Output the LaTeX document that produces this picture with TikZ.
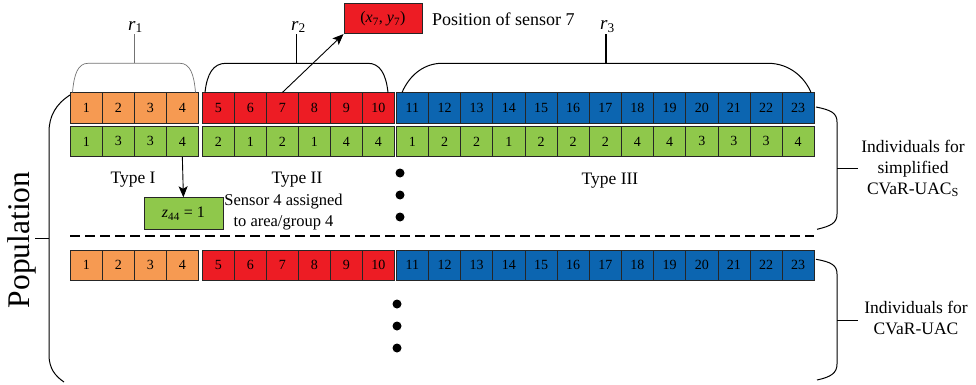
\documentclass[tikz,border=0pt]{standalone}
\usepackage{fontspec}
\setmainfont{Liberation Serif}
\usetikzlibrary{arrows.meta}
\definecolor{corange}{HTML}{F69A52}
\definecolor{cred}{HTML}{ED1C24}
\definecolor{cblue}{HTML}{0C65B0}
\definecolor{cgreen}{HTML}{8FC84B}
\begin{document}
\begin{tikzpicture}[x=1pt,y=-1pt,
  cellbox/.style={draw=black!85, line width=0.7pt, minimum width=32pt, minimum height=30.5pt, inner sep=0pt, anchor=north west, font=\fontsize{14}{14}\selectfont},
  bluebox/.style={cellbox, fill=cblue, minimum width=32.15pt},
  brace/.style={line width=1pt},
  txt/.style={font=\fontsize{17.5}{21}\selectfont, align=center, inner sep=0pt},
  tip/.style={-{Stealth[length=11pt,width=9pt,inset=2.5pt]}, line width=0.9pt},
  dot/.style={circle, fill=black, inner sep=0pt, minimum size=9pt},
  valbox/.style={draw=black!85, line width=0.8pt, inner sep=0pt, anchor=north west, font=\fontsize{16}{16}\selectfont}
]
\useasboundingbox (0,0) rectangle (976,385);

% ---- cells ----
\foreach \i/\v in {1/1,2/3,3/3,4/4} {
  \node[cellbox, fill=corange] (a\i) at ({70+32*(\i-1)},92.5) {\i};
  \node[cellbox, fill=cgreen]  (b\i) at ({70+32*(\i-1)},125.8) {\v};
  \node[cellbox, fill=corange] (c\i) at ({70+32*(\i-1)},249.5) {\i};
}
\foreach \i/\v in {5/2,6/1,7/2,8/1,9/4,10/4} {
  \node[cellbox, fill=cred]   (a\i) at ({202+32*(\i-5)},92.5) {\i};
  \node[cellbox, fill=cgreen] (b\i) at ({202+32*(\i-5)},125.8) {\v};
  \node[cellbox, fill=cred]   (c\i) at ({202+32*(\i-5)},249.5) {\i};
}
\foreach \i/\v in {11/1,12/2,13/2,14/1,15/2,16/2,17/2,18/4,19/4,20/3,21/3,22/3,23/4} {
  \node[bluebox] (a\i) at ({396+32.15*(\i-11)},92.5) {\i};
  \node[bluebox, fill=cgreen] (b\i) at ({396+32.15*(\i-11)},125.8) {\v};
  \node[bluebox] (c\i) at ({396+32.15*(\i-11)},249.5) {\i};
}

% ---- top braces ----
\draw[line width=0.7pt, black!55] (72.5,92.5) .. controls (74,74) and (78,63.3) .. (88,63.3) -- (180,63.3) .. controls (190,63.3) and (194,74) .. (195.5,92.5);
\draw[brace] (205,92.5) .. controls (207,74) and (213,63.3) .. (226,63.3) -- (368,63.3) .. controls (380,63.3) and (386,74) .. (388,92.5);
\draw[brace] (402,92.5) .. controls (410,74) and (425,63.3) .. (442,63.3) -- (768,63.3) .. controls (790,63.3) and (805,78) .. (811,92.5);

\node[txt, font=\fontsize{19}{19}\selectfont] (r1) at (135.5,27) {\textit{r}\textsubscript{1}};
\node[txt, font=\fontsize{19}{19}\selectfont] (r2) at (298.5,27) {\textit{r}\textsubscript{2}};
\node[txt, font=\fontsize{19}{19}\selectfont] (r3) at (607.5,27) {\textit{r}\textsubscript{3}};
\coordinate (s1) at (134,63.3);
\coordinate (s2) at (296,63.3);
\coordinate (s3) at (606,63.3);
\draw[line width=0.7pt, black!55] (s1) -- (134,34.5);
\draw[brace] (s2) -- (296,34.5);
\draw[brace, line width=1.3pt] (s3) -- (606,34.5);

% ---- sensor position box ----
\node[valbox, fill=cred, minimum width=78pt, minimum height=30pt] (xy) at (343.5,3.3) {(\textit{x}\textsubscript{7}, \textit{y}\textsubscript{7})};
\node[txt, anchor=west, font=\fontsize{18}{18}\selectfont] (pos) at (432,19) {Position of sensor 7};
\draw[tip] (a7.north) -- (xy.south west);

% ---- assignment box ----
\node[valbox, fill=cgreen, minimum width=79pt, minimum height=32pt] (z) at (143.5,197.3) {\textit{z}\textsubscript{44} = 1};
\draw[tip] (b4.south) -- (z.north);
\node[txt, font=\fontsize{16.5}{20.5}\selectfont] (sensor) at (283.5,212) {Sensor 4 assigned\\to area/group 4};

% ---- type labels ----
\node[txt] (t1) at (133,180) {Type I};
\node[txt] (t2) at (297,180) {Type II};
\node[txt] (t3) at (610,181) {Type III};

% ---- dots ----
\node[dot] (d1) at (400,173) {};
\node[dot] (d2) at (400,195) {};
\node[dot] (d3) at (400,217) {};
\node[dot] (d4) at (397,304) {};
\node[dot] (d5) at (397,326) {};
\node[dot] (d6) at (397,348) {};

% ---- dashed separator ----
\coordinate (dl) at (70,236);
\coordinate (dr) at (814,236);
\draw[dashed, dash pattern=on 10pt off 5pt, line width=1.1pt] (dl) -- (dr);

% ---- right braces ----
\draw[brace] (816,107) .. controls (831,110) and (837,113) .. (837,122) -- (837,214) .. controls (837,223) and (831,226) .. (817,229.3);
\coordinate (m1) at (837,168);
\draw[brace] (m1) -- (858,168);
\node[txt] (ind1) at (913,168.5) {Individuals for\\simplified\\CVaR-UAC\textsubscript{S}};

\draw[brace] (816,259.3) .. controls (831,262) and (837,265) .. (837,274) -- (837,364) .. controls (837,373) and (831,377) .. (817,380);
\coordinate (m2) at (837,320);
\draw[brace] (m2) -- (858,320);
\node[txt] (ind2) at (916,317.5) {Individuals for\\CVaR-UAC};

% ---- left brace ----
\draw[brace] (70,95) .. controls (56,104) and (49,116) .. (49,132) -- (49,355) .. controls (49,368) and (55,376) .. (64,382);
\coordinate (m3) at (49,238);
\draw[brace] (m3) -- (35,238);
\node[rotate=90, inner sep=0pt, font=\fontsize{31.5}{31.5}\selectfont] (pop) at (21.5,240) {Population};
\end{tikzpicture}
\end{document}
